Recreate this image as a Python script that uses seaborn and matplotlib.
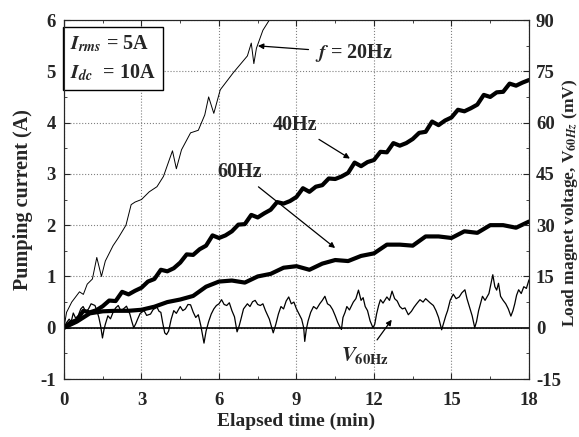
import numpy as np
import pandas as pd
import matplotlib
matplotlib.use("Agg")
import matplotlib.pyplot as plt
from matplotlib.ticker import MultipleLocator
import seaborn as sns

# f = 20 Hz pumping current (A)
t20 = [0, 0.1, 0.3, 0.6, 0.75, 0.9, 1.1, 1.27, 1.45, 1.6, 1.9, 2.1, 2.4, 2.6, 2.75, 3.0, 3.3, 3.6,
       3.85, 4.2, 4.35, 4.55, 4.9, 5.2, 5.45, 5.6, 5.8, 6.05, 6.55, 7.1, 7.25, 7.35, 7.45, 7.7, 7.95, 8.1]
i20 = [0, 0.3, 0.5, 0.7, 0.65, 0.85, 0.95, 1.37, 1.0, 1.3, 1.6, 1.75, 2.0, 2.4, 2.45, 2.5, 2.65, 2.75,
       2.95, 3.45, 3.1, 3.47, 3.8, 3.85, 4.15, 4.5, 4.18, 4.64, 4.97, 5.3, 5.55, 5.15, 5.45, 5.8, 6.0, 6.1]

# 40 Hz pumping current (A), every 0.25 min
t40 = [0, 0.25, 0.5, 0.75, 1.0, 1.25, 1.5, 1.75, 2.0, 2.25, 2.5, 2.75, 3.0, 3.25, 3.5, 3.75, 4.0, 4.25,
       4.5, 4.75, 5.0, 5.25, 5.5, 5.75, 6.0, 6.25, 6.5, 6.75, 7.0, 7.25, 7.5, 7.75, 8.0, 8.25, 8.5, 8.75,
       9.0, 9.25, 9.5, 9.75, 10.0, 10.25, 10.5, 10.75, 11.0, 11.25, 11.5, 11.75, 12.0, 12.25, 12.5, 12.75,
       13.0, 13.25, 13.5, 13.75, 14.0, 14.25, 14.5, 14.75, 15.0, 15.25, 15.5, 15.75, 16.0, 16.25, 16.5,
       16.75, 17.0, 17.25, 17.5, 17.75, 18.0]
i40 = [0.0, 0.1, 0.15, 0.33, 0.3, 0.34, 0.42, 0.53, 0.52, 0.7, 0.65, 0.72, 0.78, 0.9, 0.95, 1.13, 1.1, 1.16,
       1.27, 1.43, 1.42, 1.53, 1.6, 1.8, 1.75, 1.8, 1.88, 2.01, 2.02, 2.2, 2.15, 2.23, 2.3, 2.45, 2.42, 2.47,
       2.55, 2.72, 2.65, 2.75, 2.78, 2.91, 2.9, 2.95, 3.02, 3.22, 3.15, 3.23, 3.27, 3.43, 3.42, 3.6,
       3.55, 3.6, 3.68, 3.8, 3.82, 4.02, 3.95, 4.04, 4.1, 4.25, 4.22, 4.28, 4.35, 4.54, 4.5,
       4.59, 4.6, 4.76, 4.72, 4.78, 4.83]

# 60 Hz pumping current (A), every 0.5 min
t60 = [0, 0.5, 1.0, 1.5, 2.0, 2.5, 3.0, 3.5, 4.0, 4.5, 5.0, 5.5, 6.0, 6.5, 7.0, 7.5, 8.0, 8.5, 9.0,
       9.5, 10.0, 10.5, 11.0, 11.5, 12.0, 12.5, 13.0, 13.5, 14.0, 14.5, 15.0, 15.5, 16.0, 16.5, 17.0, 17.5, 18.0]
i60 = [0.0, 0.12, 0.28, 0.32, 0.33, 0.33, 0.35, 0.41, 0.5, 0.55, 0.62, 0.8, 0.9, 0.92, 0.88, 1.0, 1.05, 1.17, 1.2,
       1.13, 1.25, 1.32, 1.3, 1.4, 1.45, 1.62, 1.62, 1.6, 1.78, 1.78, 1.75, 1.88, 1.85, 2.0, 2.0, 1.95, 2.07]

# load magnet voltage at 60 Hz (mV)
tv = [0, 0.1, 0.2, 0.28, 0.36, 0.45, 0.55, 0.65, 0.74, 0.85, 0.95, 1.05, 1.2, 1.28, 1.35, 1.42, 1.49, 1.55,
      1.6, 1.7, 1.8, 1.9, 2.0, 2.1, 2.2, 2.3, 2.42, 2.55, 2.62, 2.7, 2.78, 2.85, 2.95,
      3.1, 3.2, 3.35, 3.45, 3.6, 3.68, 3.75, 3.82, 3.9, 3.97, 4.05, 4.15, 4.25, 4.35, 4.5, 4.6, 4.7, 4.8,
      4.9, 5.0, 5.1, 5.2, 5.3, 5.42, 5.5, 5.6, 5.7, 5.8, 5.9,
      6.0, 6.1, 6.2, 6.3, 6.4, 6.5, 6.6, 6.7, 6.78, 6.85, 6.95, 7.1, 7.2, 7.3, 7.4, 7.5, 7.6, 7.7, 7.8,
      7.95, 8.1, 8.2, 8.3, 8.4, 8.5, 8.6, 8.7, 8.8, 8.9, 9.0,
      9.1, 9.2, 9.28, 9.32, 9.38, 9.45, 9.55, 9.66, 9.78, 9.9, 10.0, 10.1, 10.2, 10.3, 10.4, 10.5, 10.6,
      10.67, 10.74, 10.8, 10.88, 10.95, 11.05, 11.2, 11.3, 11.4, 11.5, 11.58, 11.66, 11.75, 11.85, 11.96, 12.03,
      12.1, 12.18, 12.25, 12.35, 12.5, 12.6, 12.7, 12.8, 12.9, 13.0, 13.1, 13.2, 13.33, 13.45, 13.55, 13.65,
      13.78, 13.9, 14.0, 14.17, 14.3, 14.4, 14.5, 14.62, 14.7, 14.78, 14.85, 14.95,
      15.07, 15.18, 15.3, 15.4, 15.52, 15.6, 15.7, 15.8, 15.9, 15.97, 16.05, 16.12, 16.2, 16.3, 16.45, 16.52,
      16.6, 16.68, 16.75, 16.82, 16.9, 17.0, 17.1, 17.2, 17.3, 17.38, 17.45, 17.52, 17.6, 17.7, 17.8, 17.9, 18.0]
v60 = [0, 1.5, 2.5, 1.8, 4.3, 2.8, 3.5, 5.5, 6.2, 4.6, 5.5, 7.0, 6.5, 4.8, 3.0, 0.5, -3.0, -0.5,
       1.0, 3.5, 2.6, 4.5, 5.8, 6.5, 5.0, 5.5, 6.3, 4.0, 2.0, 0.0, 1.2, 2.5, 4.2,
       5.0, 3.6, 4.0, 5.3, 6.0, 4.8, 4.5, 1.5, -1.5, -2.0, -1.0, 2.5, 5.0, 4.2, 6.2, 5.0, 5.5, 6.8,
       6.7, 4.6, 3.0, 3.8, 0.5, -4.5, -1.0, 1.8, 4.0, 5.5, 6.5,
       7.0, 8.2, 6.8, 6.5, 7.3, 5.0, 3.2, -1.2, 0.5, 2.5, 5.5, 7.0, 6.2, 7.6, 8.0, 6.8, 6.5, 7.0, 5.0,
       2.5, -1.5, 1.0, 4.0, 6.2, 5.5, 7.8, 9.0, 7.0, 7.5, 5.5,
       4.0, 2.5, 0.0, -4.0, -0.5, 2.0, 4.5, 6.2, 5.5, 7.0, 8.0, 9.2, 7.0, 6.5, 5.3, 3.5, 1.5,
       0.4, -0.5, 3.0, 4.5, 6.2, 5.2, 7.5, 8.5, 11.0, 8.0, 8.8, 6.2, 5.0, 2.0, 0.0, 1.0,
       4.0, 6.5, 8.2, 7.2, 9.0, 8.0, 10.7, 8.5, 7.8, 6.2, 5.5, 5.8, 3.8, 4.8, 6.0, 7.0,
       8.2, 7.5, 8.5, 7.3, 6.5, 5.0, 3.0, -0.6, 1.5, 3.5, 5.0, 8.0,
       9.8, 8.5, 9.0, 10.2, 11.1, 8.5, 6.0, 3.5, 0.0, 1.8, 5.0, 7.0, 9.2, 8.0, 10.0, 12.5,
       15.5, 12.0, 11.0, 13.0, 9.2, 8.0, 7.0, 5.5, 3.4, 5.0, 7.0, 9.5, 11.1, 10.0, 12.0, 11.5, 14.0]

df20 = pd.DataFrame({'t': t20, 'I': i20})
df40 = pd.DataFrame({'t': t40, 'I': i40})
df60 = pd.DataFrame({'t': t60, 'I': i60})
dfv = pd.DataFrame({'t': tv, 'V': v60})

sns.set_style("ticks")
plt.rcParams['font.family'] = ['Liberation Serif', 'DejaVu Serif']
plt.rcParams['font.weight'] = 'bold'
plt.rcParams['mathtext.fontset'] = 'stix'
plt.rcParams['axes.unicode_minus'] = False
plt.rcParams['xtick.direction'] = 'in'
plt.rcParams['ytick.direction'] = 'in'

fig = plt.figure(figsize=(5.79, 4.37), dpi=100)
ax = fig.add_axes([0.1105, 0.1327, 0.8031, 0.8215])
ax2 = ax.twinx()

sns.lineplot(data=df20, x='t', y='I', ax=ax, color='black', lw=0.7)
sns.lineplot(data=df40, x='t', y='I', ax=ax, color='black', lw=3.0)
sns.lineplot(data=df60, x='t', y='I', ax=ax, color='black', lw=3.0)
sns.lineplot(data=dfv, x='t', y='V', ax=ax2, color='black', lw=0.9)

ax.set_xlim(0, 18)
ax.set_ylim(-1, 6)
ax2.set_ylim(-15, 90)
ax.xaxis.set_major_locator(MultipleLocator(3))
ax.xaxis.set_minor_locator(MultipleLocator(1.5))
ax.yaxis.set_major_locator(MultipleLocator(1))
ax.yaxis.set_minor_locator(MultipleLocator(0.5))
ax2.yaxis.set_major_locator(MultipleLocator(15))
ax2.yaxis.set_minor_locator(MultipleLocator(7.5))
ax.tick_params(which='both', top=True, right=False, labelsize=13.5)
ax.tick_params(axis='x', which='major', pad=9)
ax.tick_params(axis='y', which='major', pad=6)
ax.tick_params(which='major', length=4)
ax.tick_params(which='minor', length=2.5)
ax2.tick_params(which='major', length=4, labelsize=13.5, pad=5)
ax2.tick_params(which='minor', length=2.5)
for a in (ax, ax2):
    for lab in a.get_xticklabels() + a.get_yticklabels():
        lab.set_fontweight('bold')

ax.grid(True, which='major', color='gray', ls=':', lw=0.8)
ax.axhline(0, color='black', lw=1.2)

ax.set_xlabel('Elapsed time (min)', fontsize=14, fontweight='bold', labelpad=3)
ax.set_ylabel('Pumping current (A)', fontsize=14.5, fontweight='bold', labelpad=5)
ax2.set_ylabel('Load magnet voltage, V$_{60Hz}$ (mV)', fontsize=12.5, fontweight='bold')
ax2.yaxis.set_label_coords(1.066, 0.49)

ax.text(0.013, 0.962, '$I_{rms}$ = 5A\n$I_{dc}$  = 10A', transform=ax.transAxes, fontsize=14.5,
        fontweight='bold', va='top', ha='left', linespacing=1.5,
        bbox=dict(boxstyle='square,pad=0.35', fc='white', ec='black', lw=1))

arrow = dict(arrowstyle='-|>', color='black', lw=0.9, mutation_scale=8)
ax.annotate('$f$ = 20Hz', xy=(7.4, 5.5), xytext=(9.7, 5.36), fontsize=14.5, fontweight='bold',
            va='center', ha='left', arrowprops=arrow)
ax.annotate('40Hz', xy=(11.16, 3.27), xytext=(8.95, 3.96), fontsize=14.5, fontweight='bold',
            va='center', ha='center', arrowprops=arrow)
ax.annotate('60Hz', xy=(10.58, 1.52), xytext=(6.8, 3.04), fontsize=14.5, fontweight='bold',
            va='center', ha='center', arrowprops=arrow)
ax.annotate('$V_{\\mathbf{60Hz}}$', xy=(12.75, 0.2), xytext=(11.67, -0.55), fontsize=15,
            va='center', ha='center', arrowprops=arrow)

fig.savefig('out.png', dpi=100)
